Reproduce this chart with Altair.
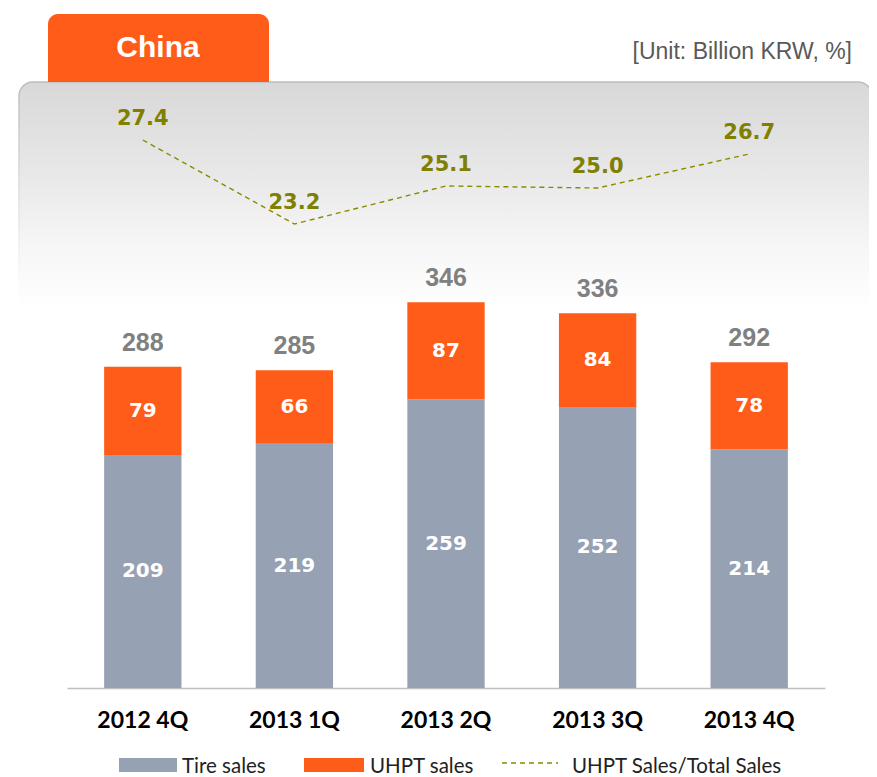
import altair as alt
import pandas as pd

# ---- data ----
quarters = ["2012 4Q", "2013 1Q", "2013 2Q", "2013 3Q", "2013 4Q"]
tire_sales = [209, 219, 259, 252, 214]
uhpt_sales = [79, 66, 87, 84, 78]
totals = [288, 285, 346, 336, 292]
uhpt_ratio = [27.4, 23.2, 25.1, 25.0, 26.7]

GRAY = "#96a1b3"
ORANGE = "#ff5b19"
OLIVE = "#8a8a00"

rows = []
for q, t, u in zip(quarters, tire_sales, uhpt_sales):
    rows.append({"quarter": q, "series": "Tire sales", "start": 0, "end": t, "mid": t / 2, "value": t})
    rows.append({"quarter": q, "series": "UHPT sales", "start": t, "end": t + u, "mid": t + u / 2, "value": u})
bars_df = pd.DataFrame(rows)
tot_df = pd.DataFrame({"quarter": quarters, "total": totals})
ratio_df = pd.DataFrame({"quarter": quarters, "ratio": uhpt_ratio})
one = pd.DataFrame({"a": [0]})

bar_scale = alt.Scale(domain=[0, 538], nice=False, zero=True)
ratio_scale = alt.Scale(domain=[0, 30], nice=False, zero=True)

x_enc = alt.X(
    "quarter:N",
    sort=quarters,
    scale=alt.Scale(paddingInner=0.49, paddingOuter=0.245),
    axis=alt.Axis(
        title=None, labelAngle=0, labelFont="Lato", labelFontWeight="bold",
        labelFontSize=23, labelColor="#000000", labelPadding=21, ticks=False,
        tickSize=0, domainColor="#bfbfbf", domainWidth=1.5, grid=False,
    ),
)

# ---- decorations ----
panel = alt.Chart(one).mark_rect(
    cornerRadius=14,
    fill=alt.Gradient(
        gradient="linear", x1=0, x2=0, y1=0, y2=1,
        stops=[alt.GradientStop(color="#d8d8d8", offset=0),
               alt.GradientStop(color="#e8e8e8", offset=0.3),
               alt.GradientStop(color="#f7f7f7", offset=0.55),
               alt.GradientStop(color="#ffffff", offset=0.75)],
    ),
    stroke=alt.Gradient(
        gradient="linear", x1=0, x2=0, y1=0, y2=1,
        stops=[alt.GradientStop(color="#bdbdbd", offset=0),
               alt.GradientStop(color="#ffffff", offset=0.7)],
    ),
    strokeWidth=1.5,
).encode(x=alt.value(-48), x2=alt.value(805), y=alt.value(-6), y2=alt.value(300))

tab = alt.Chart(one).mark_rect(
    color=ORANGE, cornerRadiusTopLeft=10, cornerRadiusTopRight=10
).encode(x=alt.value(-19), x2=alt.value(202), y=alt.value(-74), y2=alt.value(-6))

tab_text = alt.Chart(one).mark_text(
    text="China", color="white", font="Liberation Sans", fontWeight="bold",
    fontSize=30, align="center", baseline="middle",
).encode(x=alt.value(91), y=alt.value(-40))

unit_text = alt.Chart(one).mark_text(
    text="[Unit: Billion KRW, %]", color="#595959", font="Liberation Sans",
    fontSize=23, align="right", baseline="middle",
).encode(x=alt.value(785), y=alt.value(-36))

# ---- data layers ----
bars = alt.Chart(bars_df).mark_bar().encode(
    x=x_enc,
    y=alt.Y("start:Q", scale=bar_scale, axis=None),
    y2="end:Q",
    color=alt.Color("series:N", scale=alt.Scale(domain=["Tire sales", "UHPT sales"], range=[GRAY, ORANGE]), legend=None),
)

bar_text = alt.Chart(bars_df).mark_text(
    color="white", font="DejaVu Sans", fontWeight="bold", fontSize=20, baseline="middle"
).encode(
    x=x_enc,
    y=alt.Y("mid:Q", scale=bar_scale, axis=None),
    text="value:Q",
)

tot_text = alt.Chart(tot_df).mark_text(
    color="#808080", font="Liberation Sans", fontWeight="bold", fontSize=25,
    baseline="bottom", dy=-11,
).encode(
    x=x_enc,
    y=alt.Y("total:Q", scale=bar_scale, axis=None),
    text="total:Q",
)

line = alt.Chart(ratio_df).mark_line(
    color=OLIVE, strokeDash=[5, 4], strokeWidth=1.4
).encode(
    x=x_enc,
    y=alt.Y("ratio:Q", scale=ratio_scale, axis=None),
)

line_text = alt.Chart(ratio_df).mark_text(
    color="#808000", font="DejaVu Sans", fontWeight="bold", fontSize=21,
    baseline="middle", dy=-21,
).encode(
    x=x_enc,
    y=alt.Y("ratio:Q", scale=ratio_scale, axis=None),
    text=alt.Text("ratio:Q", format=".1f"),
)

# ---- legend (drawn manually) ----
LG = dict(font="Lato", fontSize=20.5, color="#222222", align="left", baseline="middle")
lg_gray = alt.Chart(one).mark_rect(color=GRAY).encode(
    x=alt.value(52), x2=alt.value(110), y=alt.value(670), y2=alt.value(684))
lg_gray_t = alt.Chart(one).mark_text(text="Tire sales", **LG).encode(x=alt.value(115), y=alt.value(679))
lg_or = alt.Chart(one).mark_rect(color=ORANGE).encode(
    x=alt.value(237), x2=alt.value(297), y=alt.value(670), y2=alt.value(684))
lg_or_t = alt.Chart(one).mark_text(text="UHPT sales", **LG).encode(x=alt.value(303), y=alt.value(679))
lg_line = alt.Chart(one).mark_rule(color=OLIVE, strokeDash=[5, 4], strokeWidth=1.4).encode(
    x=alt.value(435), x2=alt.value(491), y=alt.value(675))
lg_line_t = alt.Chart(one).mark_text(text="UHPT Sales/Total  Sales", **LG).encode(x=alt.value(505), y=alt.value(679))

chart = alt.layer(
    panel, tab, tab_text, unit_text,
    bars, bar_text, tot_text, line, line_text,
    lg_gray, lg_gray_t, lg_or, lg_or_t, lg_line, lg_line_t,
).resolve_scale(y="independent").properties(
    width=758, height=600,
    padding={"left": 59, "top": 80, "right": 44, "bottom": 89},
    autosize=alt.AutoSizeParams(type="none"),
).configure_view(stroke=None)

chart.save("out.html", embed_options={"renderer": "svg", "actions": False})
